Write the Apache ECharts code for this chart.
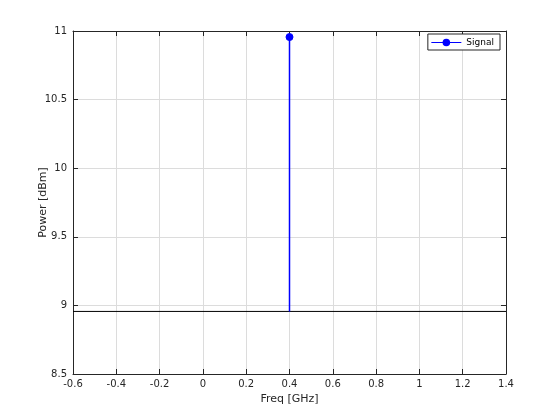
<!DOCTYPE html>
<html>
<head>
<meta charset="utf-8">
<script src="https://cdn.jsdelivr.net/npm/echarts@6/dist/echarts.min.js"></script>
<style>
  html, body { margin: 0; padding: 0; background: #fff; }
  #chart { width: 560px; height: 420px; }
</style>
</head>
<body>
<div id="chart"></div>
<script>
// data
var seriesName = "Signal";
var freqs = [0.4];
var powers = [10.956];
var baseLevel = 8.956;

var xTicks = { min: -0.6, max: 1.4, step: 0.2 };
var yTicks = { min: 8.5, max: 11, step: 0.5 };

var chart = echarts.init(document.getElementById("chart"));

var axisCol = "#262626";
var gridCol = "#dcdcdc";
var blue = "#0000ff";
var font = "DejaVu Sans";

function xLabel(v) { return Math.abs(v) < 1e-9 ? "0" : String(+v.toFixed(1)); }
function yLabel(v) { return String(+v.toFixed(1)); }

var series = [];
// one vertical stem per sample
freqs.forEach(function (f, i) {
  series.push({
    name: "stem" + i, type: "line", silent: true, symbol: "none",
    data: [[f, baseLevel], [f, powers[i]]],
    color: blue,
    lineStyle: { color: blue, width: 1.5 }, z: 5, zlevel: 1
  });
});
// baseline
series.push({
  name: "base", type: "line", silent: true, symbol: "none",
  data: [[xTicks.min, baseLevel], [xTicks.max, baseLevel]],
  lineStyle: { color: "#000", width: 1 }, z: 2
});
// markers (legend entry)
series.push({
  name: seriesName, type: "line",
  data: freqs.map(function (f, i) { return [f, powers[i]]; }),
  symbol: "circle", symbolSize: 7,
  itemStyle: { color: blue, borderColor: blue, borderWidth: 1 },
  lineStyle: { color: blue, width: 1 }, z: 6, zlevel: 1
});

var option = {
  animation: false,
  textStyle: { fontFamily: font },
  grid: { left: 73, right: 54, top: 31, bottom: 46, show: false },
  legend: {
    data: [seriesName],
    right: 60, top: 34,
    backgroundColor: "#fff",
    borderColor: axisCol, borderWidth: 1, borderRadius: 0,
    padding: [4, 6, 3, 3],
    itemWidth: 30, itemHeight: 7, itemGap: 0,
    lineStyle: { width: 1 },
    textStyle: { fontFamily: font, fontSize: 9, color: "#000" }
  },
  xAxis: [{
    type: "value", min: xTicks.min, max: xTicks.max, interval: xTicks.step,
    name: "Freq [GHz]", nameLocation: "middle", nameGap: 18,
    nameTextStyle: { fontFamily: font, fontSize: 11, color: axisCol },
    axisLine: { onZero: false, lineStyle: { color: axisCol, width: 1 } },
    axisTick: { inside: true, length: 5, lineStyle: { color: axisCol } },
    axisLabel: { color: axisCol, fontSize: 10, margin: 5, formatter: xLabel },
    splitLine: { show: true, lineStyle: { color: gridCol, width: 1 } }
  }, {
    type: "value", position: "top", min: xTicks.min, max: xTicks.max, interval: xTicks.step,
    axisLine: { onZero: false, lineStyle: { color: axisCol, width: 1 } },
    axisTick: { inside: true, length: 5, lineStyle: { color: axisCol } },
    axisLabel: { show: false }, splitLine: { show: false }
  }],
  yAxis: [{
    type: "value", min: yTicks.min, max: yTicks.max, interval: yTicks.step,
    name: "Power [dBm]", nameLocation: "middle", nameGap: 24, nameMoveOverlap: false,
    nameTextStyle: { fontFamily: font, fontSize: 11, color: axisCol },
    axisLine: { show: true, onZero: false, lineStyle: { color: axisCol, width: 1 } },
    axisTick: { show: true, inside: true, length: 5, lineStyle: { color: axisCol } },
    axisLabel: { color: axisCol, fontSize: 10, margin: 6, formatter: yLabel },
    splitLine: { show: true, lineStyle: { color: gridCol, width: 1 } }
  }, {
    type: "value", position: "right", min: yTicks.min, max: yTicks.max, interval: yTicks.step,
    axisLine: { show: true, onZero: false, lineStyle: { color: axisCol, width: 1 } },
    axisTick: { show: true, inside: true, length: 5, lineStyle: { color: axisCol } },
    axisLabel: { show: false }, splitLine: { show: false }
  }],
  series: series
};

chart.setOption(option);
</script>
</body>
</html>
